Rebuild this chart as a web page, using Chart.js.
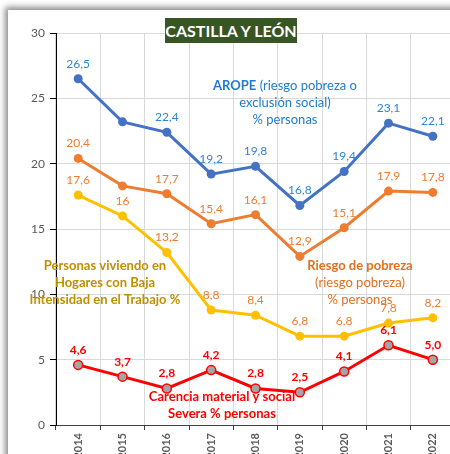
<!DOCTYPE html>
<html>
<head>
<meta charset="utf-8">
<script src="https://cdn.jsdelivr.net/npm/chart.js@4.4.1/dist/chart.umd.min.js"></script>
<style>
  body { margin: 0; background: #fff; overflow: hidden; width: 450px; height: 454px; position: relative; }
  #frame { position: absolute; left: 8px; top: 10px; width: 600px; height: 600px; background: #fff;
           box-shadow: -3px -3px 6px rgba(0,0,0,0.45); }
  #chart { position: absolute; left: 0; top: 0; }
  #title { position: absolute; left: 165px; top: 18px; width: 132px; height: 25px; background: #375623;
           color: #fff; font: bold 16px Lato, sans-serif; text-align: center; line-height: 25px; white-space: nowrap; }
</style>
</head>
<body>
<div id="frame"></div>
<canvas id="chart" width="470" height="480"></canvas>
<div id="title">CASTILLA Y LEÓN</div>
<script>
// Data
const years = ['2014', '2015', '2016', '2017', '2018', '2019', '2020', '2021', '2022'];
const arope = [26.5, 23.2, 22.4, 19.2, 19.8, 16.8, 19.4, 23.1, 22.1];
const riesgo = [20.4, 18.3, 17.7, 15.4, 16.1, 12.9, 15.1, 17.9, 17.8];
const bajaIntensidad = [17.6, 16, 13.2, 8.8, 8.4, 6.8, 6.8, 7.8, 8.2];
const carencia = [4.6, 3.7, 2.8, 4.2, 2.8, 2.5, 4.1, 6.1, 5.0];
const yTicks = [0, 5, 10, 15, 20, 25, 30];

// which points have a value label (2015 on the top two lines has none)
const aropeShow = [1, 0, 1, 1, 1, 1, 1, 1, 1];
const riesgoShow = [1, 0, 1, 1, 1, 1, 1, 1, 1];

const fontFam = 'Lato, sans-serif';

// text notes inside the plot
const notes = [
  { lines: [[['AROPE', true], [' (riesgo pobreza o', false]], [['exclusión social)', false]], [['% personas', false]]],
    x: 285, y: 86, color: '#1F7BD0' },
  { lines: [[['Riesgo de pobreza', true]], [['(riesgo pobreza)', false]], [['% personas', false]]],
    x: 360, y: 266, color: '#E3701F' },
  { lines: [[['Personas viviendo en', true]], [['Hogares con Baja', true]], [['Intensidad en el Trabajo %', true]]],
    x: 105, y: 266, color: '#BF9000' },
  { lines: [[['Carencia material y social', true]], [['Severa % personas', true]]],
    x: 222, y: 397, color: '#FF0000' }
];

const fmt = v => String(v).replace('.', ',');

const valueLabels = {
  id: 'valueLabels',
  afterDatasetsDraw(chart) {
    const c = chart.ctx;
    chart.data.datasets.forEach((ds, i) => {
      const meta = chart.getDatasetMeta(i);
      c.save();
      c.font = (ds.lblBold ? 'bold ' : '') + '12px ' + fontFam;
      c.fillStyle = ds.lblColor;
      c.textAlign = 'center';
      c.textBaseline = 'middle';
      meta.data.forEach((pt, j) => {
        if (ds.lblShow && !ds.lblShow[j]) return;
        const txt = ds.lblFixed ? ds.data[j].toFixed(1).replace('.', ',') : fmt(ds.data[j]);
        c.fillText(txt, pt.x, pt.y - 15);
      });
      c.restore();
    });
  }
};

const plotNotes = {
  id: 'plotNotes',
  afterDraw(chart) {
    const c = chart.ctx;
    c.save();
    c.textBaseline = 'middle';
    c.textAlign = 'left';
    notes.forEach(n => {
      c.fillStyle = n.color;
      n.lines.forEach((parts, k) => {
        let w = 0;
        parts.forEach(p => { c.font = (p[1] ? 'bold ' : '') + '13px ' + fontFam; w += c.measureText(p[0]).width; });
        let x = n.x - w / 2;
        parts.forEach(p => {
          c.font = (p[1] ? 'bold ' : '') + '13px ' + fontFam;
          c.fillText(p[0], x, n.y + k * 17);
          x += c.measureText(p[0]).width;
        });
      });
    });
    c.restore();
  }
};

const ctx = document.getElementById('chart').getContext('2d');
new Chart(ctx, {
  type: 'line',
  data: {
    labels: years,
    datasets: [
      { data: arope, borderColor: '#4472C4', backgroundColor: '#4472C4', pointBackgroundColor: '#4472C4',
        lblColor: '#2E86D6', lblShow: aropeShow },
      { data: riesgo, borderColor: '#ED7D31', backgroundColor: '#ED7D31', pointBackgroundColor: '#ED7D31',
        lblColor: '#ED7D31', lblShow: riesgoShow },
      { data: bajaIntensidad, borderColor: '#FFC000', backgroundColor: '#FFC000', pointBackgroundColor: '#FFC000',
        lblColor: '#ED7D31' },
      { data: carencia, borderColor: '#FF0000', backgroundColor: '#FF0000', pointBackgroundColor: '#A5A5A5',
        pointBorderColor: '#FF0000', pointBorderWidth: 1.5, lblColor: '#FF0000', lblBold: true, lblFixed: true }
    ]
  },
  options: {
    responsive: false,
    animation: false,
    layout: { padding: { left: 0, top: 33, right: 15, bottom: 0 } },
    elements: {
      line: { borderWidth: 3, tension: 0 },
      point: { radius: 4.5, borderWidth: 0, hoverRadius: 4.5 }
    },
    plugins: { legend: { display: false }, tooltip: { enabled: false } },
    scales: {
      x: {
        offset: true,
        grid: { offset: true, color: '#D9D9D9', tickColor: '#404040', tickLength: 5 },
        border: { color: '#404040', width: 1 },
        ticks: { color: '#595959', font: { family: fontFam, size: 11, weight: 'bold' },
                 minRotation: 90, maxRotation: 90, padding: 3 },
        afterFit: s => { s.height = 55; }
      },
      y: {
        min: 0, max: 30,
        afterBuildTicks: s => { s.ticks = yTicks.map(v => ({ value: v })); },
        grid: { color: '#D9D9D9', tickColor: '#000', tickLength: 6 },
        border: { color: '#000', width: 1 },
        ticks: { color: '#595959', font: { family: fontFam, size: 12 }, padding: 5 },
        afterFit: s => { s.width = 56; }
      }
    }
  },
  plugins: [valueLabels, plotNotes]
});
</script>
</body>
</html>
